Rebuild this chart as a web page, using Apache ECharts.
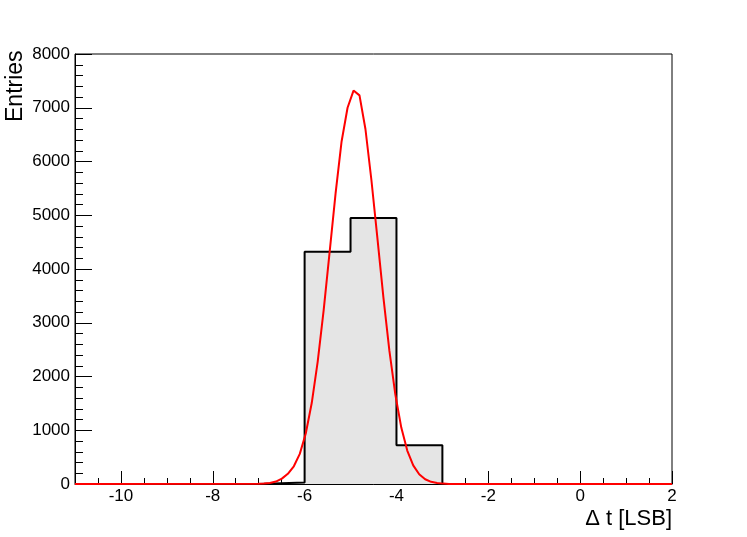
<!DOCTYPE html>
<html><head><meta charset="utf-8">
<script src="https://cdn.jsdelivr.net/npm/echarts@6/dist/echarts.min.js"></script>
<style>html,body{margin:0;padding:0;background:#fff}#c{width:747px;height:537px}</style>
</head><body><div id="c"></div>
<script>
// Histogram bins (width 1) from -11 to 2
const binEdges = [-11,-10,-9,-8,-7,-6,-5,-4,-3,-2,-1,0,1,2];
const binCounts = [0,0,0,0,30,4320,4950,720,0,0,0,0,0];
// Fitted curve
const fitX = [-11,-7.015,-6.885,-6.755,-6.625,-6.495,-6.365,-6.235,-6.105,-5.975,-5.845,-5.715,-5.585,-5.455,-5.325,-5.195,-5.065,-4.935,-4.805,-4.675,-4.545,-4.415,-4.285,-4.155,-4.025,-3.895,-3.765,-3.635,-3.505,-3.375,-3.245,-3.115,-2.985,-2.855,2];
const fitY = [0,3,8,20,45,100,190,330,560,940,1506,2277,3236,4318,5413,6373,7000,7320,7230,6600,5651,4574,3478,2485,1667,1050,622,346,181,89,41,18,7,2,0];
const xMajor = [-10,-8,-6,-4,-2,0,2];
const xMinor = [-11,-10.5,-10,-9.5,-9,-8.5,-8,-7.5,-7,-6.5,-6,-5.5,-5,-4.5,-4,-3.5,-3,-2.5,-2,-1.5,-1,-0.5,0,0.5,1,1.5,2];
const xTitle = '\u0394 t [LSB]';
const yTitle = 'Entries';

const histPts = [];
for (let i = 0; i < binCounts.length; i++) {
  histPts.push([binEdges[i], binCounts[i]]);
  histPts.push([binEdges[i+1], binCounts[i]]);
}
const fitPts = fitX.map((x,i)=>[x, fitY[i]]);

const FONT = 'Liberation Sans';
const chart = echarts.init(document.getElementById('c'), null, {renderer:'canvas'});
chart.setOption({
  animation:false,
  backgroundColor:'#fff',
  grid:{left:75,right:75,top:54,bottom:53,show:true,borderColor:'#000',borderWidth:1,backgroundColor:'transparent'},
  xAxis:[{
    type:'value',min:-11,max:2,
    axisLine:{show:true,onZero:false,lineStyle:{color:'#000',width:1}},
    axisTick:{show:true,inside:true,length:13,customValues:xMajor,lineStyle:{color:'#000',width:1}},
    axisLabel:{show:true,customValues:xMajor,margin:4,color:'#000',fontFamily:FONT,fontSize:17},
    splitLine:{show:false}
  },{
    type:'value',min:-11,max:2,position:'bottom',
    axisLine:{show:false,onZero:false},
    axisTick:{show:true,inside:true,length:6,customValues:xMinor,lineStyle:{color:'#000',width:1}},
    axisLabel:{show:false},
    splitLine:{show:false}
  }],
  yAxis:{
    type:'value',min:0,max:8000,interval:1000,
    axisLine:{show:true,onZero:false,lineStyle:{color:'#000',width:1}},
    axisTick:{show:true,inside:true,length:17,lineStyle:{color:'#000',width:1}},
    minorTick:{show:true,splitNumber:5,length:8,lineStyle:{color:'#000',width:1}},
    axisLabel:{margin:5,color:'#000',fontFamily:FONT,fontSize:17,formatter:v=>String(v)},
    splitLine:{show:false}
  },
  graphic:[
    {type:'text',right:75,top:508,style:{text:xTitle,fill:'#000',font:'22px "Liberation Sans"',textAlign:'right'}},
    {type:'text',x:16,y:122,rotation:Math.PI/2,style:{text:yTitle,fill:'#000',font:'23px "Liberation Sans"',textAlign:'left',textVerticalAlign:'middle'}}
  ],
  series:[{
    type:'line',data:histPts,symbol:'none',
    lineStyle:{color:'#000',width:2},
    areaStyle:{color:'#e5e5e5',opacity:1},
    z:2
  },{
    type:'line',data:fitPts,symbol:'none',
    lineStyle:{color:'#ff0000',width:2},
    z:3
  }]
});
</script></body></html>
